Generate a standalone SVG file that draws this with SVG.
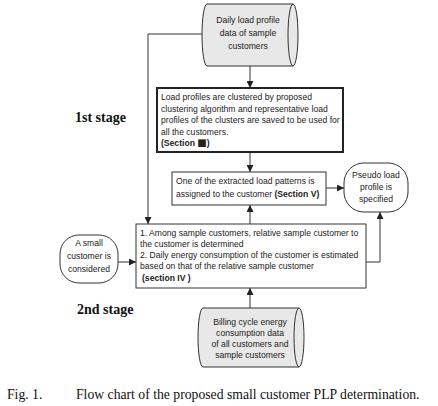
<svg xmlns="http://www.w3.org/2000/svg" width="438" height="406" viewBox="0 0 438 406">
<defs>
<marker id="ah" viewBox="0 0 10 10" refX="10" refY="5" markerWidth="7" markerHeight="7" markerUnits="userSpaceOnUse" orient="auto">
<path d="M0,0 L10,5 L0,10 Z" fill="#222"/>
</marker>
<style>
.t{font-family:"Liberation Sans",Arial,sans-serif;font-size:8.6px;fill:#222}
.c{text-anchor:middle}
.b{font-weight:bold}
.sq{font-family:"DejaVu Sans",sans-serif;font-size:10px}
.box{fill:#fff;stroke:#333;stroke-width:1}
.cyl{fill:#e8e8e8;stroke:#333;stroke-width:1}
.ln{fill:none;stroke:#333;stroke-width:1}
.ar{fill:none;stroke:#333;stroke-width:1;marker-end:url(#ah)}
.lab{font-family:"Liberation Serif","Times New Roman",serif;font-weight:bold;font-size:14px;fill:#111}
.cap{font-family:"Liberation Serif","Times New Roman",serif;font-size:13.7px;fill:#111}
</style>
</defs>
<rect width="438" height="406" fill="#fff"/>

<g id="connectors">
<path class="ar" d="M250,66 L250,88"/>
<path class="ar" d="M202,34 L148,34 L148,224"/>
<path class="ar" d="M250,152 L250,172"/>
<path class="ar" d="M250,224 L250,205"/>
<path class="ar" d="M326,188 L344,188"/>
<path class="ar" d="M366,262 L380,262 L380,212"/>
<path class="ar" d="M118,262 L136,262"/>
<path class="ar" d="M250,308 L250,288"/>
</g>

<g id="daily-load-data">
<path class="cyl" d="M207,4 L293,4 A5,31 0 0 1 293,66 L207,66 A5,31 0 0 1 207,4 Z"/>
<path class="ln" d="M293,4 A5,31 0 0 0 293,66"/>
<text class="t c" x="248" y="23">Daily load profile</text>
<text class="t c" x="248" y="36">data of sample</text>
<text class="t c" x="248" y="49">customers</text>
</g>

<g id="clustering">
<rect x="157" y="88" width="186" height="64" fill="#fff" stroke="#222" stroke-width="2"/>
<text class="t" x="161" y="100">Load profiles are clustered by proposed</text>
<text class="t" x="161" y="111.5">clustering algorithm and representative load</text>
<text class="t" x="161" y="123">profiles of the clusters are saved to be used for</text>
<text class="t" x="161" y="134.5">all the customers.</text>
<text class="t b" x="161" y="146">(Section <tspan class="sq">■</tspan>)</text>
</g>

<g id="assign">
<rect class="box" x="172" y="172" width="154" height="33"/>
<text class="t" x="176" y="184">One of the extracted load patterns is</text>
<text class="t" x="176" y="197">assigned to the customer <tspan class="b">(Section V)</tspan></text>
</g>

<g id="pseudo">
<rect class="box" x="344" y="163" width="64" height="49" rx="20" ry="20"/>
<text class="t c" x="376" y="178">Pseudo load</text>
<text class="t c" x="376" y="190">profile is</text>
<text class="t c" x="376" y="202">specified</text>
</g>

<g id="estimate">
<rect class="box" x="136" y="224" width="230" height="64"/>
<text class="t" x="140" y="236">1. Among sample customers, relative sample customer to</text>
<text class="t" x="140" y="247">the customer is determined</text>
<text class="t" x="140" y="258">2. Daily energy consumption of the customer is estimated</text>
<text class="t" x="140" y="269">based on that of the relative sample customer</text>
<text class="t b" x="142" y="281">(section IV )</text>
</g>

<g id="small-customer">
<rect class="box" x="60" y="235" width="58" height="48" rx="19" ry="19"/>
<text class="t c" x="89" y="246">A small</text>
<text class="t c" x="89" y="259">customer is</text>
<text class="t c" x="89" y="272">considered</text>
</g>

<g id="billing-data">
<path class="cyl" d="M203,308 L299,308 A5,29.5 0 0 1 299,367 L203,367 A5,29.5 0 0 1 203,308 Z"/>
<path class="ln" d="M299,308 A5,29.5 0 0 0 299,367"/>
<text class="t c" x="250" y="325">Billing cycle energy</text>
<text class="t c" x="250" y="336">consumption data</text>
<text class="t c" x="250" y="347">of all customers and</text>
<text class="t c" x="250" y="358">sample customers</text>
</g>

<text class="lab" x="75" y="122">1st stage</text>
<text class="lab" x="77" y="314">2nd stage</text>
<text class="cap" x="7" y="399">Fig. 1.</text>
<text class="cap" x="76" y="399">Flow chart of the proposed small customer PLP determination.</text>
</svg>
